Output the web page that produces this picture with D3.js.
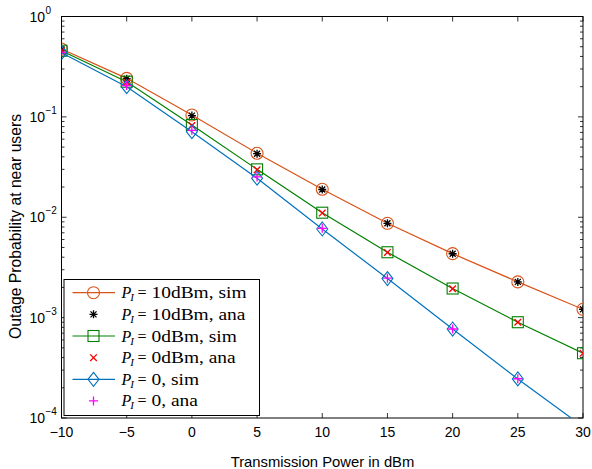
<!DOCTYPE html>
<html><head><meta charset="utf-8">
<script src="https://cdn.jsdelivr.net/npm/d3@7"></script>
<style>body{margin:0;background:#fff}svg{display:block}</style>
</head><body>
<svg id="c" width="592" height="469"></svg>
<script>
const power = [-10, -5, 0, 5, 10, 15, 20, 25, 30];
const sim10 = [0.474, 0.242, 0.1045, 0.0434, 0.0190, 0.0087, 0.00434, 0.00227, 0.00121];
const ana10 = [0.466, 0.240, 0.1030, 0.0430, 0.0189, 0.0087, 0.00433, 0.00227, 0.00121];
const sim0dBm = [0.456, 0.224, 0.0830, 0.0300, 0.0111, 0.00448, 0.00195, 0.00090, 0.000442];
const ana0dBm = [0.452, 0.222, 0.0820, 0.0297, 0.0110, 0.00446, 0.00194, 0.00090, 0.000441];
const sim0 = [0.436, 0.200, 0.0712, 0.0245, 0.00764, 0.00245, 0.00077, 0.000245, 0.000082];
const ana0 = [0.440, 0.205, 0.0735, 0.0252, 0.00775, 0.00247, 0.00077, 0.000246, 0.000082];
const xTicks = [-10, -5, 0, 5, 10, 15, 20, 25, 30];
const yExps = [0, -1, -2, -3, -4];
const legendRest = ["10dBm, sim", "10dBm, ana", "0dBm, sim", "0dBm, ana", "0, sim", "0, ana"];

const svg = d3.select("#c");
const L = 61.5, R = 583, T = 16.5, B = 418;
const x = d3.scaleLinear().domain([-10, 30]).range([L, R]);
const y = d3.scaleLog().domain([1e-4, 1]).range([B, T]);

const ORANGE = "#D95319", GREEN = "#008000", BLUE = "#0072BD";

svg.append("defs").append("clipPath").attr("id", "clip")
  .append("rect").attr("x", L).attr("y", T).attr("width", R - L).attr("height", B - T);

// ticks
const tk = svg.append("g").attr("stroke", "#000").attr("stroke-width", 0.8);
xTicks.forEach(v => {
  const px = x(v);
  tk.append("line").attr("x1", px).attr("x2", px).attr("y1", B).attr("y2", B - 5);
  tk.append("line").attr("x1", px).attr("x2", px).attr("y1", T).attr("y2", T + 5);
});
for (let e = -4; e <= 0; e++) {
  const py = y(Math.pow(10, e));
  tk.append("line").attr("x1", L).attr("x2", L + 5).attr("y1", py).attr("y2", py);
  tk.append("line").attr("x1", R).attr("x2", R - 5).attr("y1", py).attr("y2", py);
  if (e < 0) for (let m = 2; m <= 9; m++) {
    const pm = y(m * Math.pow(10, e));
    tk.append("line").attr("x1", L).attr("x2", L + 3).attr("y1", pm).attr("y2", pm);
    tk.append("line").attr("x1", R).attr("x2", R - 3).attr("y1", pm).attr("y2", pm);
  }
}
svg.append("rect").attr("x", L).attr("y", T).attr("width", R - L).attr("height", B - T)
  .attr("fill", "none").attr("stroke", "#000").attr("stroke-width", 1);

// tick labels
const tf = "Liberation Sans, Arial, sans-serif";
xTicks.forEach(v => {
  svg.append("text").attr("x", x(v)).attr("y", 436.5).attr("text-anchor", "middle")
    .attr("font-family", tf).attr("font-size", 14).attr("fill", "#000")
    .text(v < 0 ? "\u2212" + Math.abs(v) : v);
});
yExps.forEach(e => {
  const py = y(Math.pow(10, e));
  svg.append("text").attr("x", 45).attr("y", py + 5)
    .attr("text-anchor", "end").attr("font-family", tf).attr("font-size", 14).attr("fill", "#000")
    .text("10");
  svg.append("text").attr("x", 45.5).attr("y", py - 3)
    .attr("font-family", tf).attr("font-size", 10).attr("fill", "#000")
    .text(e === 0 ? "0" : "\u2212" + Math.abs(e));
});

// axis labels
svg.append("text").attr("x", 322.5).attr("y", 467).attr("text-anchor", "middle")
  .attr("font-family", tf).attr("font-size", 14.8).attr("fill", "#000").text("Transmission Power in dBm");
svg.append("text").attr("transform", "translate(21,226.5) rotate(-90)").attr("text-anchor", "middle")
  .attr("font-family", tf).attr("font-size", 15.7).attr("fill", "#000").text("Outage Probability at near users");

// marker drawing
function marker(g, type, cx, cy, color) {
  if (type === "circle") g.append("circle").attr("cx", cx).attr("cy", cy).attr("r", 6)
    .attr("fill", "none").attr("stroke", color).attr("stroke-width", 1.1);
  else if (type === "square") g.append("rect").attr("x", cx - 5.5).attr("y", cy - 5.5).attr("width", 11).attr("height", 11)
    .attr("fill", "none").attr("stroke", color).attr("stroke-width", 1.1);
  else if (type === "diamond") g.append("path").attr("d", `M${cx},${cy-7}L${cx+5.5},${cy}L${cx},${cy+7}L${cx-5.5},${cy}Z`)
    .attr("fill", "none").attr("stroke", color).attr("stroke-width", 1.1);
  else if (type === "star") {
    const s = 4;
    g.append("path").attr("d", `M${cx-s},${cy}H${cx+s}M${cx},${cy-s}V${cy+s}M${cx-s*0.75},${cy-s*0.75}L${cx+s*0.75},${cy+s*0.75}M${cx-s*0.75},${cy+s*0.75}L${cx+s*0.75},${cy-s*0.75}`)
      .attr("stroke", color).attr("stroke-width", 1.3);
  } else if (type === "x") {
    const s = 3.3;
    g.append("path").attr("d", `M${cx-s},${cy-s}L${cx+s},${cy+s}M${cx-s},${cy+s}L${cx+s},${cy-s}`)
      .attr("stroke", color).attr("stroke-width", 1.3);
  } else if (type === "plus") {
    const s = 4.5;
    g.append("path").attr("d", `M${cx-s},${cy}H${cx+s}M${cx},${cy-s}V${cy+s}`)
      .attr("stroke", color).attr("stroke-width", 1.3);
  }
}

const series = [
  {vals: sim10, color: ORANGE, line: true, m: "circle"},
  {vals: ana10, color: "#000", line: false, m: "star"},
  {vals: sim0dBm, color: GREEN, line: true, m: "square"},
  {vals: ana0dBm, color: "#FF0000", line: false, m: "x"},
  {vals: sim0, color: BLUE, line: true, m: "diamond"},
  {vals: ana0, color: "#FF00FF", line: false, m: "plus"}
];

const plot = svg.append("g").attr("clip-path", "url(#clip)");
const lineGen = d3.line().x((d, i) => x(power[i])).y(d => y(d));
series.forEach(s => {
  if (s.line) plot.append("path").datum(s.vals).attr("d", lineGen).attr("fill", "none")
    .attr("stroke", s.color).attr("stroke-width", 1.2);
  s.vals.forEach((v, i) => {
    if (v >= 1e-4) marker(plot, s.m, x(power[i]), y(v), s.color);
  });
});

// legend
const lg = svg.append("g");
lg.append("rect").attr("x", 64).attr("y", 279.5).attr("width", 195.5).attr("height", 136)
  .attr("fill", "#fff").attr("stroke", "#000").attr("stroke-width", 1);
const rowY0 = 292.7, rowDy = 21.65;
const sf = "Liberation Serif, Times New Roman, serif";
let factor = null;
series.forEach((s, i) => {
  const ry = rowY0 + i * rowDy;
  if (s.line) lg.append("line").attr("x1", 72.5).attr("x2", 115).attr("y1", ry).attr("y2", ry)
    .attr("stroke", s.color).attr("stroke-width", 1.2);
  marker(lg, s.m, 93.5, ry, s.color);
  const by = ry + 5.5;
  lg.append("text").attr("x", 121.5).attr("y", by).attr("font-family", sf).attr("font-size", 16)
    .attr("font-style", "italic").attr("fill", "#000").text("P");
  lg.append("text").attr("x", 130.3).attr("y", by + 3).attr("font-family", sf).attr("font-size", 11)
    .attr("font-style", "italic").attr("fill", "#000").text("I");
  lg.append("text").attr("x", 137.5).attr("y", by).attr("font-family", sf).attr("font-size", 16)
    .attr("fill", "#000").text("=");
  const t = lg.append("text").attr("x", 151.5).attr("y", by).attr("font-family", sf).attr("font-size", 16)
    .attr("fill", "#000").text(legendRest[i]);
  const w = t.node().getComputedTextLength();
  if (factor === null) factor = 95 / w;
  t.attr("textLength", w * factor).attr("lengthAdjust", "spacingAndGlyphs");
});
</script>
</body></html>
